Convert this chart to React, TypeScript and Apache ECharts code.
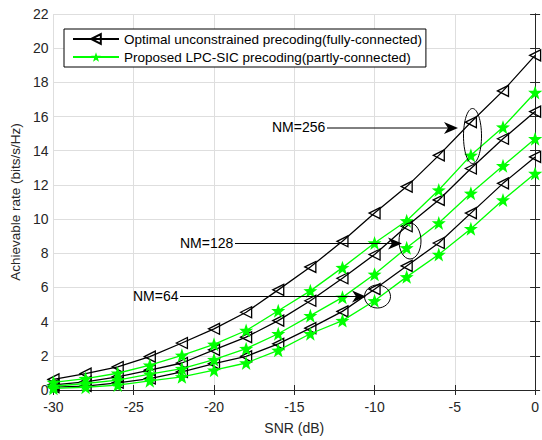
import React, { useEffect, useRef } from "react";
import * as echarts from "echarts";

const snr = [-30, -28, -26, -24, -22, -20, -18, -16, -14, -12, -10, -8, -6, -4, -2, 0];

const opt256 = [0.62, 0.96, 1.35, 1.95, 2.75, 3.58, 4.55, 5.86, 7.2, 8.7, 10.35, 11.9, 13.73, 15.67, 17.5, 19.58];
const lpc256 = [0.45, 0.67, 0.98, 1.45, 2.03, 2.67, 3.48, 4.64, 5.8, 7.16, 8.6, 9.9, 11.7, 13.73, 15.38, 17.41];
const opt128 = [0.3, 0.48, 0.77, 1.16, 1.58, 2.35, 3.09, 4.06, 5.22, 6.54, 7.93, 9.58, 11.12, 12.96, 14.7, 16.29];
const lpc128 = [0.22, 0.38, 0.58, 0.93, 1.25, 1.78, 2.42, 3.29, 4.35, 5.42, 6.77, 8.32, 9.77, 11.51, 13.12, 14.7];
const opt64 = [0.17, 0.23, 0.42, 0.67, 1.06, 1.54, 1.97, 2.7, 3.62, 4.6, 5.9, 7.26, 8.6, 10.35, 12.09, 13.64];
const lpc64 = [0.1, 0.16, 0.29, 0.54, 0.77, 1.16, 1.58, 2.32, 3.29, 4.06, 5.22, 6.62, 7.93, 9.44, 11.12, 12.67];

const nameOpt = "Optimal unconstrained precoding(fully-connected)";
const nameLpc = "Proposed LPC-SIC precoding(partly-connected)";

const STAR =
  "path://M0,-10 L2.35,-3.24 L9.51,-3.09 L3.8,1.24 L5.88,8.09 L0,4 L-5.88,8.09 L-3.8,1.24 L-9.51,-3.09 L-2.35,-3.24 Z";

const FONT = "'Liberation Sans', Arial, Helvetica, sans-serif";

function optSeries(vals: number[]) {
  return {
    name: nameOpt,
    type: "line",
    data: snr.map((x, i) => [x, vals[i]]),
    symbol: "triangle",
    symbolRotate: 90,
    symbolSize: 11,
    showSymbol: true,
    lineStyle: { color: "#000", width: 1.3 },
    itemStyle: { color: "rgba(255,255,255,0)", borderColor: "#000", borderWidth: 1.3 },
    z: 3,
  };
}
function lpcSeries(vals: number[]) {
  return {
    name: nameLpc,
    type: "line",
    data: snr.map((x, i) => [x, vals[i]]),
    symbol: STAR,
    symbolSize: 14,
    lineStyle: { color: "#00ff00", width: 1.3 },
    itemStyle: { color: "#00ff00", borderColor: "#00ff00", borderWidth: 0 },
    z: 4,
  };
}

export default function App() {
  const ref = useRef<HTMLDivElement>(null);
  useEffect(() => {
    if (!ref.current) return;
    const chart = echarts.init(ref.current, null, { renderer: "svg" });
    const axisLine = { show: true, lineStyle: { color: "#262626", width: 1 } };
    chart.setOption({
      animation: false,
      backgroundColor: "#fff",
      textStyle: { fontFamily: FONT },
      grid: { left: 49, right: 3, top: 14, bottom: 47, containLabel: false },
      legend: {
        orient: "vertical",
        left: 64,
        top: 29,
        padding: [3, 4, 3, 8],
        itemGap: 4,
        itemWidth: 46,
        itemHeight: 12,
        borderColor: "#000",
        borderWidth: 1,
        borderRadius: 0,
        backgroundColor: "#fff",
        textStyle: { fontSize: 13.5, color: "#000", fontFamily: FONT },
        data: [nameOpt, nameLpc],
      },
      xAxis: [
        {
          type: "value",
          min: -30,
          max: 0,
          interval: 5,
          position: "bottom",
          name: "SNR (dB)",
          nameLocation: "middle",
          nameGap: 31,
          nameTextStyle: { fontSize: 14, color: "#262626", fontFamily: FONT },
          axisLine,
          axisTick: { show: true, inside: true, length: 5, lineStyle: { color: "#262626" } },
          axisLabel: { fontSize: 14, color: "#262626", margin: 10, fontFamily: FONT },
          splitLine: { show: true, lineStyle: { color: "#dedede", width: 1 } },
        },
        {
          type: "value",
          min: -30,
          max: 0,
          interval: 5,
          position: "top",
          axisLine,
          axisTick: { show: true, inside: true, length: 5, lineStyle: { color: "#262626" } },
          axisLabel: { show: false },
          splitLine: { show: false },
        },
      ],
      yAxis: [
        {
          type: "value",
          min: 0,
          max: 22,
          interval: 2,
          position: "left",
          name: "Achievable rate (bits/s/Hz)",
          nameLocation: "middle",
          nameGap: 28,
          nameTextStyle: { fontSize: 13.5, color: "#262626", fontFamily: FONT },
          axisLine,
          axisTick: { show: true, inside: true, length: 5, lineStyle: { color: "#262626" } },
          axisLabel: { fontSize: 14, color: "#262626", margin: 5, fontFamily: FONT },
          splitLine: { show: true, lineStyle: { color: "#dedede", width: 1 } },
        },
        {
          type: "value",
          min: 0,
          max: 22,
          interval: 2,
          position: "right",
          axisLine,
          axisTick: { show: true, inside: true, length: 5, lineStyle: { color: "#262626" } },
          axisLabel: { show: false },
          splitLine: { show: false },
        },
      ],
      series: [
        optSeries(opt256),
        lpcSeries(lpc256),
        optSeries(opt128),
        lpcSeries(lpc128),
        optSeries(opt64),
        lpcSeries(lpc64),
      ],
      graphic: [
        // NM=256
        { type: "text", left: 272, top: 120, style: { text: "NM=256", fontSize: 14, fill: "#000", fontFamily: FONT }, z: 10 },
        { type: "line", shape: { x1: 327, y1: 128, x2: 450, y2: 128 }, style: { stroke: "#000", lineWidth: 1 }, z: 10 },
        { type: "polygon", shape: { points: [[458, 128], [444, 122], [448, 128], [444, 134]] }, style: { fill: "#000" }, z: 10 },
        { type: "ellipse", shape: { cx: 472.5, cy: 136, rx: 9, ry: 27.5 }, style: { fill: "none", stroke: "#000", lineWidth: 1 }, z: 10 },
        // NM=128
        { type: "text", left: 180, top: 236, style: { text: "NM=128", fontSize: 14, fill: "#000", fontFamily: FONT }, z: 10 },
        { type: "line", shape: { x1: 235, y1: 243.5, x2: 394, y2: 243.5 }, style: { stroke: "#000", lineWidth: 1 }, z: 10 },
        { type: "polygon", shape: { points: [[402, 243.5], [388, 237.5], [392, 243.5], [388, 249.5]] }, style: { fill: "#000" }, z: 10 },
        { type: "ellipse", shape: { cx: 410, cy: 241, rx: 11, ry: 18 }, style: { fill: "none", stroke: "#000", lineWidth: 1 }, z: 10 },
        // NM=64
        { type: "text", left: 133, top: 289, style: { text: "NM=64", fontSize: 14, fill: "#000", fontFamily: FONT }, z: 10 },
        { type: "line", shape: { x1: 180, y1: 296.5, x2: 358, y2: 296.5 }, style: { stroke: "#000", lineWidth: 1 }, z: 10 },
        { type: "polygon", shape: { points: [[366, 296.5], [352, 290.5], [356, 296.5], [352, 302.5]] }, style: { fill: "#000" }, z: 10 },
        { type: "ellipse", shape: { cx: 377.5, cy: 296.5, rx: 13, ry: 11.5 }, style: { fill: "none", stroke: "#000", lineWidth: 1 }, z: 10 },
      ],
    });
    return () => chart.dispose();
  }, []);
  return <div ref={ref} style={{ width: 542, height: 440, position: "absolute", left: 0, top: 0 }} />;
}
